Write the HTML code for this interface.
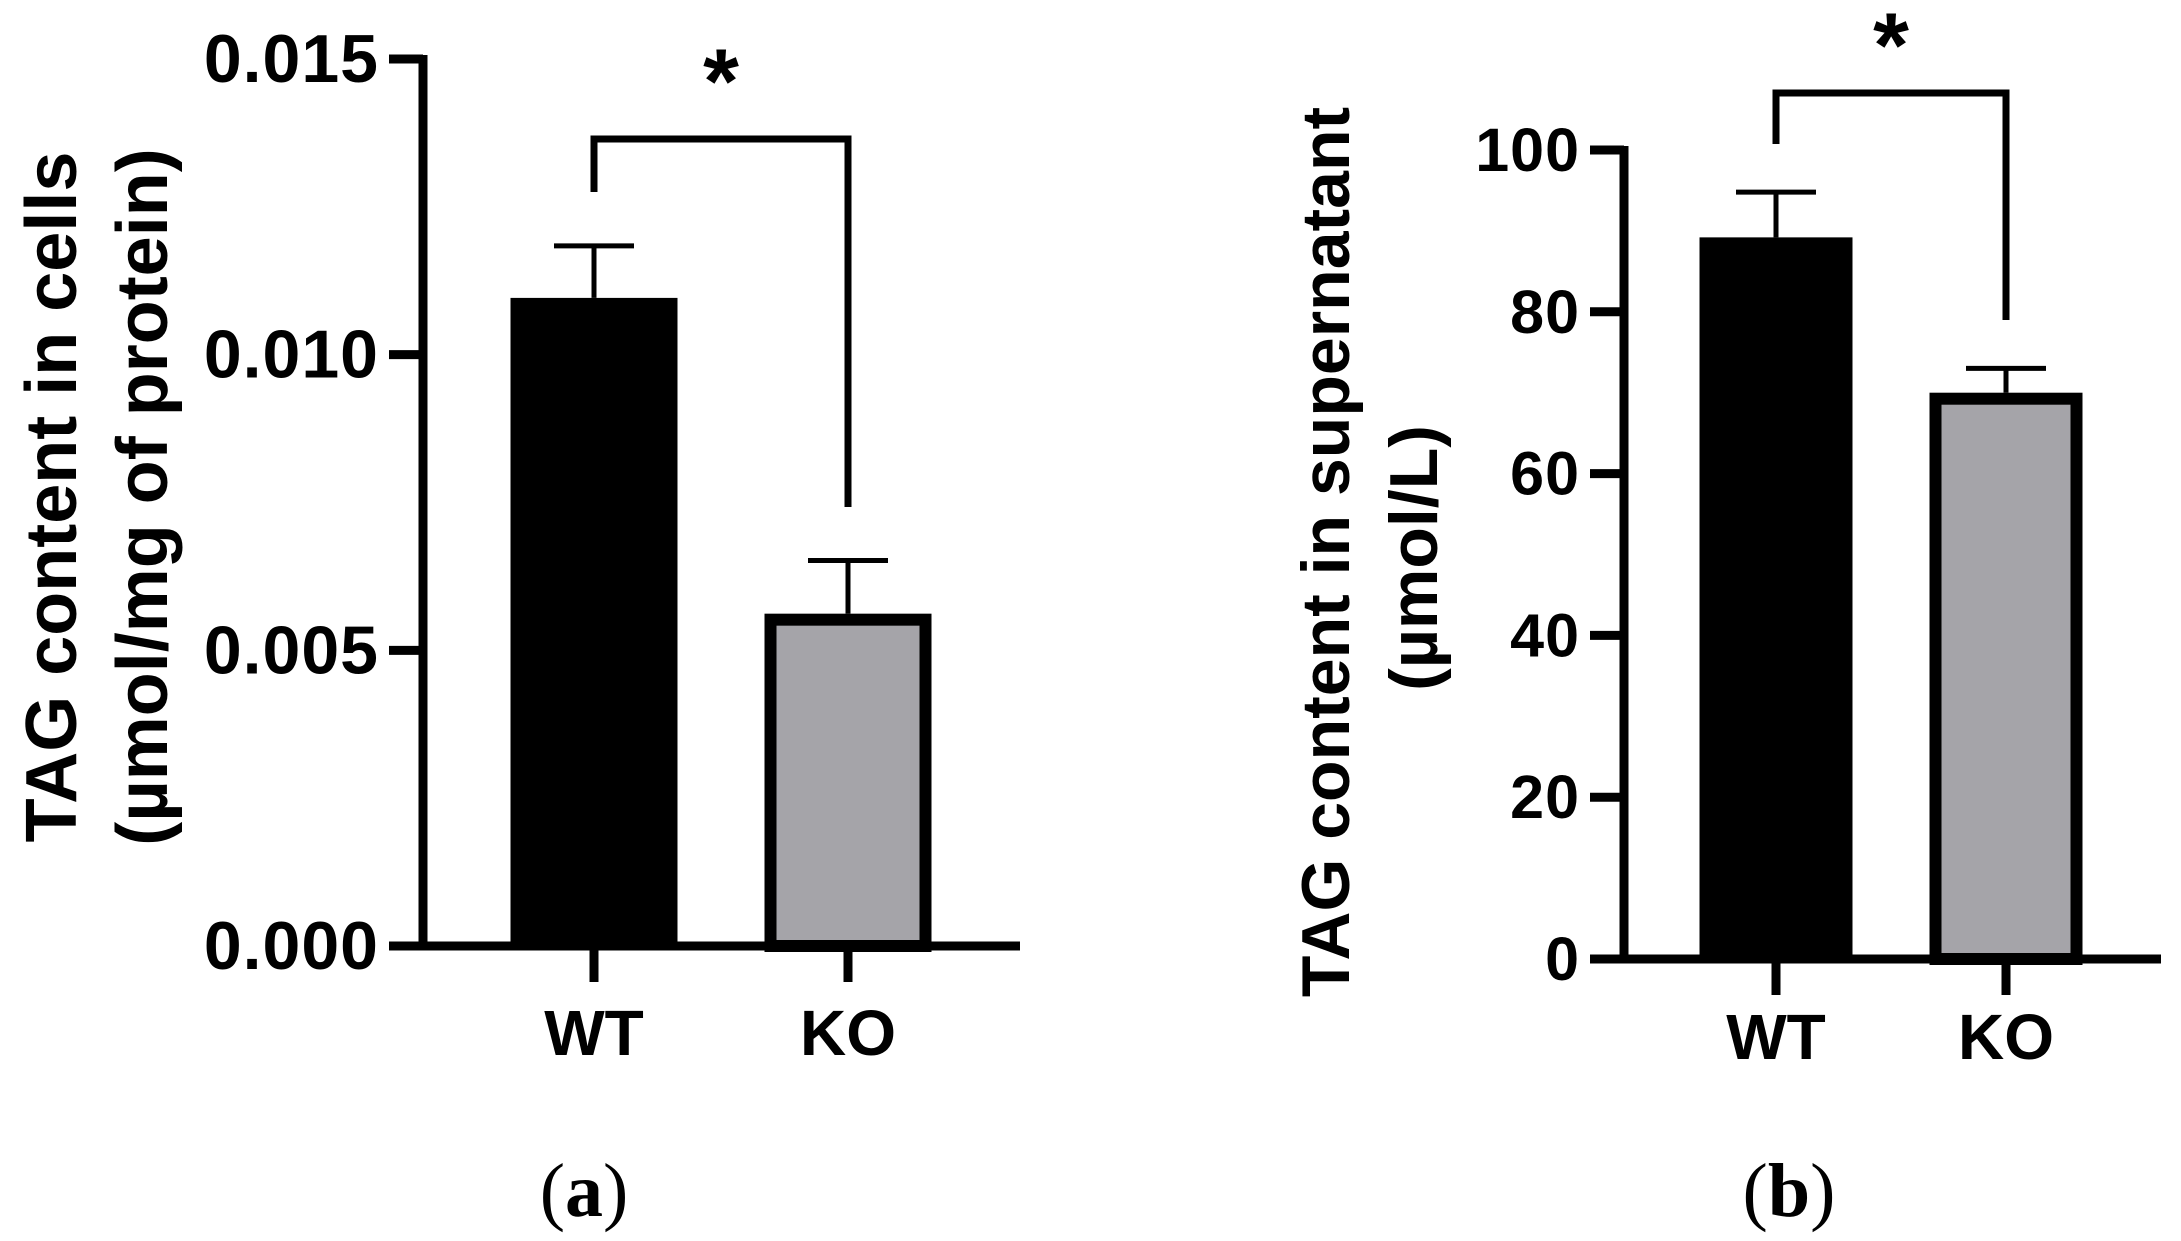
<!DOCTYPE html>
<html><head><meta charset="utf-8"><style>
html,body{margin:0;padding:0;background:#fff}
svg{display:block}
text{font-family:"Liberation Sans",Arial,sans-serif;font-weight:bold;fill:#000}
</style></head><body>
<svg id="chart" width="2181" height="1241" viewBox="0 0 2181 1241" xmlns="http://www.w3.org/2000/svg"></svg>
<script>
const categories = ["WT", "KO"];
const cellsValues = [0.01096, 0.00562];
const cellsErrors = [0.00088, 0.0009];
const cellsTicks = [0, 0.005, 0.010, 0.015];
const cellsTickLabels = ["0.000", "0.005", "0.010", "0.015"];
const superValues = [89.2, 70.0];
const superErrors = [5.6, 3.0];
const superTicks = [0, 20, 40, 60, 80, 100];
const superTickLabels = ["0", "20", "40", "60", "80", "100"];

const svg = document.getElementById('chart');
const NS = 'http://www.w3.org/2000/svg';
function mk(tag, attrs, parent) {
  const e = document.createElementNS(NS, tag);
  for (const k in attrs) e.setAttribute(k, attrs[k]);
  (parent || svg).appendChild(e);
  return e;
}

function panel(cfg) {
  const g = mk('g', {});
  
  
  const y = v => cfg.y0 - (v - cfg.vmin) / (cfg.vmax - cfg.vmin) * (cfg.y0 - cfg.y1);
  const x = i => cfg.xc[i];
  cfg.values.forEach((v, i) => {
    const top = y(v), hw = cfg.barW / 2;
    let r;
    if (i === 0) {
      r = mk('rect', {x: x(i) - hw, y: top, width: cfg.barW, height: cfg.y0 - top, fill: '#000'}, g);
    } else {
      r = mk('rect', {x: x(i) - hw + 6, y: top + 6, width: cfg.barW - 12, height: cfg.y0 - top - 6, fill: '#a5a4a9', stroke: '#000', 'stroke-width': 12}, g);
    }
    
    
    const et = y(v + cfg.errors[i]);
    const eg = mk('g', {stroke: '#000', 'stroke-width': 5, fill: 'none'}, g);
    
    
    mk('line', {x1: x(i), x2: x(i), y1: top, y2: et}, eg);
    mk('line', {x1: x(i) - 40, x2: x(i) + 40, y1: et, y2: et}, eg);
  });
  const ax = mk('g', {stroke: '#000', 'stroke-width': 9, fill: 'none', 'stroke-linecap': 'butt'}, g);
  
  
  mk('line', {x1: cfg.ax, x2: cfg.ax, y1: y(cfg.vmax) - 4, y2: cfg.y0 + 4}, ax);
  mk('line', {x1: cfg.ax - 4, x2: cfg.xEnd, y1: cfg.y0, y2: cfg.y0}, ax);
  cfg.ticks.forEach((t, i) => {
    mk('line', {x1: cfg.ax - 34, x2: cfg.ax, y1: y(t), y2: y(t)}, ax);
    const tl = mk('text', {x: cfg.ax - 44, y: y(t), 'text-anchor': 'end', 'dominant-baseline': 'central', 'font-size': cfg.tickFs, 'letter-spacing': 1}, g);
    tl.textContent = cfg.tickLabels[i];
    
    
  });
  categories.forEach((c, i) => {
    mk('line', {x1: x(i), x2: x(i), y1: cfg.y0, y2: cfg.y0 + 36}, ax);
    const cl = mk('text', {x: x(i), y: cfg.labY, 'text-anchor': 'middle', 'dominant-baseline': 'central', 'font-size': 64}, g);
    cl.textContent = c;
    
    
  });
  const br = mk('path', {d: `M${x(0)} ${cfg.brL} V${cfg.brY} H${x(1)} V${cfg.brR}`, stroke: '#000', 'stroke-width': 7, fill: 'none'}, g);
  
  
  const st = mk('text', {x: (x(0) + x(1)) / 2, y: cfg.starY + 30, 'text-anchor': 'middle', 'font-size': 92}, g);
  st.textContent = '*';
  
  
  cfg.title.forEach((t, i) => {
    const tx = cfg.titleX[i], ty = cfg.titleY[i];
    const tt = mk('text', {x: tx, y: ty, 'text-anchor': 'middle', 'dominant-baseline': 'central', 'font-size': cfg.titleFs, transform: `rotate(-90 ${tx} ${ty})`}, g);
    tt.textContent = t;
    
    
  });
  const pl = mk('text', {x: cfg.plX, y: 1191, 'text-anchor': 'middle', 'dominant-baseline': 'central', 'font-size': 76, style: 'font-family:"Liberation Serif",serif;font-weight:normal'}, g);
  pl.innerHTML = cfg.plabel;
  
  
}

panel({name: 'panel-a', values: cellsValues, errors: cellsErrors, ticks: cellsTicks, tickLabels: cellsTickLabels,
  vmin: 0, vmax: 0.015, y0: 946, y1: 59, ax: 423, xEnd: 1020, xc: [594, 848], barW: 167,
  tickFs: 68, labY: 1033, brY: 139, brL: 192, brR: 507, starY: 83,
  title: ['TAG content in cells', '(µmol/mg of protein)'], titleX: [52, 143], titleY: [497, 497], titleFs: 72,
  plX: 584, plabel: '(<tspan font-weight="bold">a</tspan>)'});
panel({name: 'panel-b', values: superValues, errors: superErrors, ticks: superTicks, tickLabels: superTickLabels,
  vmin: 0, vmax: 100, y0: 959, y1: 150, ax: 1624, xEnd: 2161, xc: [1776, 2006], barW: 153,
  tickFs: 61, labY: 1037, brY: 93, brL: 144, brR: 320, starY: 47,
  title: ['TAG content in supernatant', '(µmol/L)'], titleX: [1326, 1414], titleY: [552, 558], titleFs: 68,
  plX: 1789, plabel: '(<tspan font-weight="bold">b</tspan>)'});
</script>
</body></html>
